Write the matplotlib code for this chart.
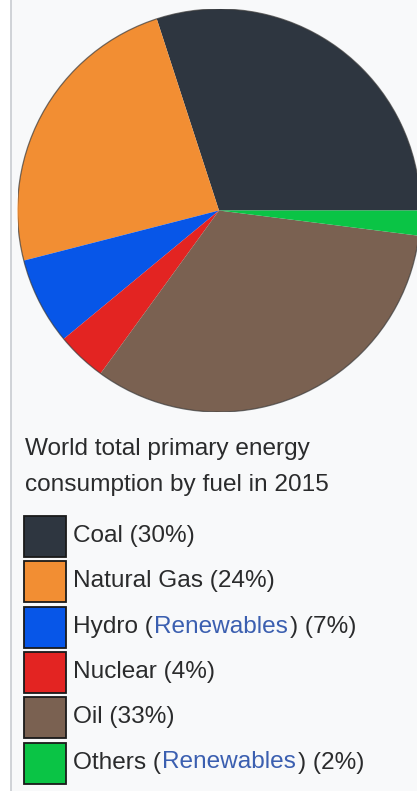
import matplotlib
matplotlib.use("Agg")
import matplotlib.pyplot as plt
from matplotlib.patches import Rectangle
from matplotlib.lines import Line2D

# World total primary energy consumption by fuel, 2015 (percent)
fuels = ["Coal", "Natural Gas", "Hydro", "Nuclear", "Oil", "Others"]
shares = [30, 24, 7, 4, 33, 2]
renewable = [False, False, True, False, False, True]
colors = ["#2e3640", "#f28e33", "#0756e8", "#e32422", "#7a6151", "#0ac445"]
title_lines = ["World total primary energy", "consumption by fuel in 2015"]

W, H = 417, 791
DPI = 100
fig = plt.figure(figsize=(W / DPI, H / DPI), dpi=DPI)
fig.patch.set_facecolor("#f8f9fa")

# overlay axes in pixel units (y downwards) for the panel, caption and legend
ov = fig.add_axes([0, 0, 1, 1])
ov.set_xlim(0, W)
ov.set_ylim(H, 0)
ov.axis("off")
ov.add_patch(Rectangle((0, 0), 11.5, H, facecolor="white", edgecolor="none"))
ov.add_line(Line2D([11.5, 11.5], [0, H], color="#c8ccd1", lw=1.2))

# pie axes
cx, cy, r = 219, 210.5, 201.5
pax = fig.add_axes([(cx - r) / W, (H - cy - r) / H, 2 * r / W, 2 * r / H])
pax.pie(shares, colors=colors, startangle=0, counterclock=True,
        wedgeprops=dict(linewidth=0))
pax.add_patch(plt.Circle((0, 0), 1.0, fill=False, edgecolor="#3a3a3a",
                         lw=0.9, alpha=0.7))
pax.set_xlim(-1, 1)
pax.set_ylim(-1, 1)
pax.set_aspect("equal")
pax.axis("off")

font = dict(family=["Liberation Sans", "DejaVu Sans"], size=17.6)
text_col = "#2a2b2c"
link_col = "#3b5fb0"

for i, line in enumerate(title_lines):
    ov.text(25, 455 + i * 36, line, color=text_col, ha="left", va="baseline", **font)

top0, pitch, sw, sh = 516, 45.3, 42, 41
for i, (name, val, ren, col) in enumerate(zip(fuels, shares, renewable, colors)):
    top = top0 + i * pitch
    ov.add_patch(Rectangle((24, top), sw, sh, facecolor=col,
                           edgecolor="#1a1a1a", lw=1.3))
    base = top + 26
    if ren:
        parts = [(f"{name} (", text_col), ("Renewables", link_col),
                 (f") ({val}%)", text_col)]
    else:
        parts = [(f"{name} ({val}%)", text_col)]
    prev = ov.text(73, base, parts[0][0], color=parts[0][1],
                   ha="left", va="baseline", **font)
    for txt, c in parts[1:]:
        prev = ov.annotate(txt, xy=(1, 0), xycoords=prev, xytext=(1.5, 0),
                           textcoords="offset pixels", color=c,
                           ha="left", va="bottom", **font)

fig.savefig("out.png", dpi=DPI, facecolor=fig.get_facecolor())
